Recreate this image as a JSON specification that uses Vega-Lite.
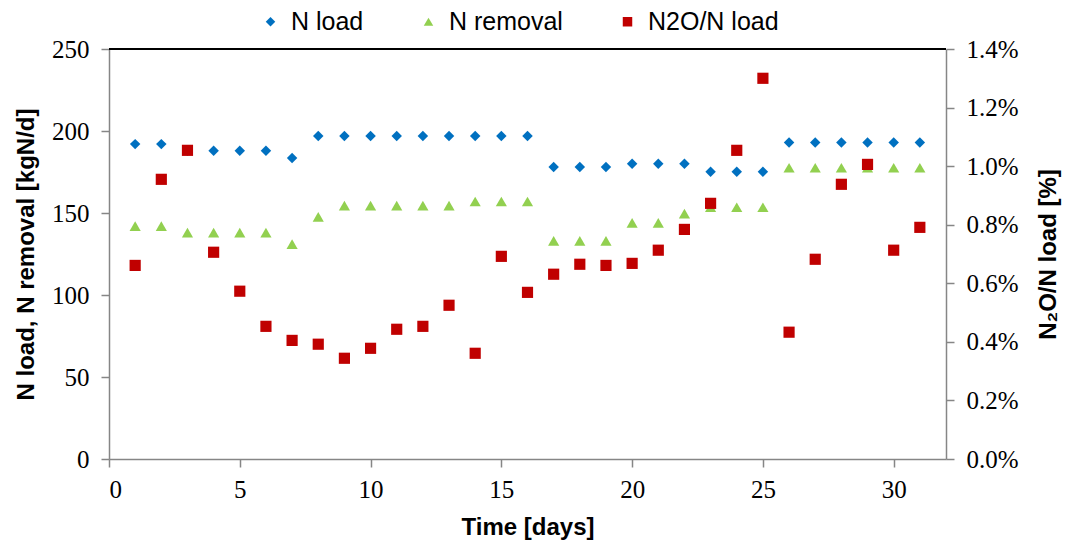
{
  "$schema": "https://vega.github.io/schema/vega-lite/v6.json",
  "width": 837,
  "height": 410,
  "autosize": {"type": "none"},
  "padding": {"left": 109, "top": 49, "right": 119, "bottom": 83},
  "background": "white",
  "config": {
    "view": {"stroke": null},
    "axis": {
      "domainColor": "#868686",
      "domainWidth": 1.5,
      "tickColor": "#868686",
      "tickWidth": 1.5,
      "tickSize": 8,
      "grid": false,
      "labelFont": "Liberation Serif",
      "labelFontSize": 25,
      "labelColor": "black",
      "titleFont": "Liberation Sans",
      "titleFontSize": 24,
      "titleFontWeight": "bold",
      "titleColor": "black"
    },
    "legend": {
      "orient": "none",
      "direction": "horizontal",
      "legendX": 149,
      "legendY": -40,
      "labelFont": "Liberation Sans",
      "labelFontSize": 25,
      "labelColor": "black",
      "symbolSize": 90,
      "symbolType": "square",
      "labelOffset": 8,
      "columnPadding": 52,
      "title": null
    }
  },
  "data": {
    "values": [
      {"day": 1, "series": "N load", "value": 192},
      {"day": 2, "series": "N load", "value": 192},
      {"day": 3, "series": "N load", "value": 188},
      {"day": 4, "series": "N load", "value": 188},
      {"day": 5, "series": "N load", "value": 188},
      {"day": 6, "series": "N load", "value": 188},
      {"day": 7, "series": "N load", "value": 183.5},
      {"day": 8, "series": "N load", "value": 197},
      {"day": 9, "series": "N load", "value": 197},
      {"day": 10, "series": "N load", "value": 197},
      {"day": 11, "series": "N load", "value": 197},
      {"day": 12, "series": "N load", "value": 197},
      {"day": 13, "series": "N load", "value": 197},
      {"day": 14, "series": "N load", "value": 197},
      {"day": 15, "series": "N load", "value": 197},
      {"day": 16, "series": "N load", "value": 197},
      {"day": 17, "series": "N load", "value": 178},
      {"day": 18, "series": "N load", "value": 178},
      {"day": 19, "series": "N load", "value": 178},
      {"day": 20, "series": "N load", "value": 180},
      {"day": 21, "series": "N load", "value": 180},
      {"day": 22, "series": "N load", "value": 180},
      {"day": 23, "series": "N load", "value": 175.2},
      {"day": 24, "series": "N load", "value": 175.2},
      {"day": 25, "series": "N load", "value": 175.2},
      {"day": 26, "series": "N load", "value": 193},
      {"day": 27, "series": "N load", "value": 193},
      {"day": 28, "series": "N load", "value": 193},
      {"day": 29, "series": "N load", "value": 193},
      {"day": 30, "series": "N load", "value": 193},
      {"day": 31, "series": "N load", "value": 193},
      {"day": 1, "series": "N removal", "value": 142},
      {"day": 2, "series": "N removal", "value": 142},
      {"day": 3, "series": "N removal", "value": 138},
      {"day": 4, "series": "N removal", "value": 138},
      {"day": 5, "series": "N removal", "value": 138},
      {"day": 6, "series": "N removal", "value": 138},
      {"day": 7, "series": "N removal", "value": 131},
      {"day": 8, "series": "N removal", "value": 147.6},
      {"day": 9, "series": "N removal", "value": 154.5},
      {"day": 10, "series": "N removal", "value": 154.5},
      {"day": 11, "series": "N removal", "value": 154.5},
      {"day": 12, "series": "N removal", "value": 154.5},
      {"day": 13, "series": "N removal", "value": 154.5},
      {"day": 14, "series": "N removal", "value": 157},
      {"day": 15, "series": "N removal", "value": 157},
      {"day": 16, "series": "N removal", "value": 157},
      {"day": 17, "series": "N removal", "value": 133},
      {"day": 18, "series": "N removal", "value": 133},
      {"day": 19, "series": "N removal", "value": 133},
      {"day": 20, "series": "N removal", "value": 144},
      {"day": 21, "series": "N removal", "value": 144},
      {"day": 22, "series": "N removal", "value": 149.6},
      {"day": 23, "series": "N removal", "value": 153.5},
      {"day": 24, "series": "N removal", "value": 153.5},
      {"day": 25, "series": "N removal", "value": 153.5},
      {"day": 26, "series": "N removal", "value": 177.6},
      {"day": 27, "series": "N removal", "value": 177.6},
      {"day": 28, "series": "N removal", "value": 177.6},
      {"day": 29, "series": "N removal", "value": 177.6},
      {"day": 30, "series": "N removal", "value": 177.6},
      {"day": 31, "series": "N removal", "value": 177.6},
      {"day": 1, "series": "N2O/N load", "value": 0.00661},
      {"day": 2, "series": "N2O/N load", "value": 0.00955},
      {"day": 3, "series": "N2O/N load", "value": 0.01054},
      {"day": 4, "series": "N2O/N load", "value": 0.00706},
      {"day": 5, "series": "N2O/N load", "value": 0.00573},
      {"day": 6, "series": "N2O/N load", "value": 0.00453},
      {"day": 7, "series": "N2O/N load", "value": 0.00405},
      {"day": 8, "series": "N2O/N load", "value": 0.00392},
      {"day": 9, "series": "N2O/N load", "value": 0.00344},
      {"day": 10, "series": "N2O/N load", "value": 0.00378},
      {"day": 11, "series": "N2O/N load", "value": 0.00443},
      {"day": 12, "series": "N2O/N load", "value": 0.00453},
      {"day": 13, "series": "N2O/N load", "value": 0.00525},
      {"day": 14, "series": "N2O/N load", "value": 0.00361},
      {"day": 15, "series": "N2O/N load", "value": 0.00692},
      {"day": 16, "series": "N2O/N load", "value": 0.00569},
      {"day": 17, "series": "N2O/N load", "value": 0.00631},
      {"day": 18, "series": "N2O/N load", "value": 0.00665},
      {"day": 19, "series": "N2O/N load", "value": 0.00661},
      {"day": 20, "series": "N2O/N load", "value": 0.00668},
      {"day": 21, "series": "N2O/N load", "value": 0.00713},
      {"day": 22, "series": "N2O/N load", "value": 0.00784},
      {"day": 23, "series": "N2O/N load", "value": 0.00873},
      {"day": 24, "series": "N2O/N load", "value": 0.01054},
      {"day": 25, "series": "N2O/N load", "value": 0.01300},
      {"day": 26, "series": "N2O/N load", "value": 0.00433},
      {"day": 27, "series": "N2O/N load", "value": 0.00682},
      {"day": 28, "series": "N2O/N load", "value": 0.00938},
      {"day": 29, "series": "N2O/N load", "value": 0.01006},
      {"day": 30, "series": "N2O/N load", "value": 0.00713},
      {"day": 31, "series": "N2O/N load", "value": 0.00791}
    ]
  },
  "encoding": {
    "x": {
      "field": "day",
      "type": "quantitative",
      "scale": {"domain": [0, 32], "nice": false, "zero": false},
      "axis": {
        "values": [0, 5, 10, 15, 20, 25, 30],
        "title": "Time [days]",
        "labelPadding": 10,
        "titlePadding": 13
      }
    },
    "color": {
      "field": "series",
      "type": "nominal",
      "scale": {
        "domain": ["N load", "N removal", "N2O/N load"],
        "range": ["#0070C0", "#92D050", "#C00000"]
      }
    },
    "shape": {
      "field": "series",
      "type": "nominal",
      "scale": {
        "domain": ["N load", "N removal", "N2O/N load"],
        "range": ["diamond", "triangle-up", "square"]
      }
    }
  },
  "layer": [
    {
      "encoding": {
        "y": {
          "field": "value",
          "type": "quantitative",
          "scale": {"domain": [0, 250], "nice": false},
          "axis": {
            "values": [0, 50, 100, 150, 200, 250],
            "title": "N load, N removal [kgN/d]",
            "labelPadding": 12,
            "titlePadding": 13
          }
        }
      },
      "layer": [
        {
          "transform": [{"filter": "datum.series === 'N load'"}],
          "mark": {"type": "point", "filled": true, "opacity": 1, "size": 110}
        },
        {
          "transform": [{"filter": "datum.series === 'N removal'"}],
          "mark": {"type": "point", "filled": true, "opacity": 1, "size": 125}
        },
        {
          "mark": {"type": "rule", "color": "black", "strokeWidth": 1.5},
          "encoding": {
            "y": {"datum": 250},
            "x": null,
            "color": null,
            "shape": null
          }
        }
      ]
    },
    {
      "transform": [{"filter": "datum.series === 'N2O/N load'"}],
      "mark": {"type": "point", "filled": true, "opacity": 1, "size": 125},
      "encoding": {
        "y": {
          "field": "value",
          "type": "quantitative",
          "scale": {"domain": [0, 0.014], "nice": false},
          "axis": {
            "orient": "right",
            "values": [0, 0.002, 0.004, 0.006, 0.008, 0.01, 0.012, 0.014],
            "format": ".1%",
            "title": "N₂O/N load [%]",
            "titleAngle": 270,
            "titleBaseline": "top",
            "labelPadding": 12,
            "titlePadding": 18
          }
        }
      }
    }
  ],
  "resolve": {"scale": {"y": "independent"}}
}
